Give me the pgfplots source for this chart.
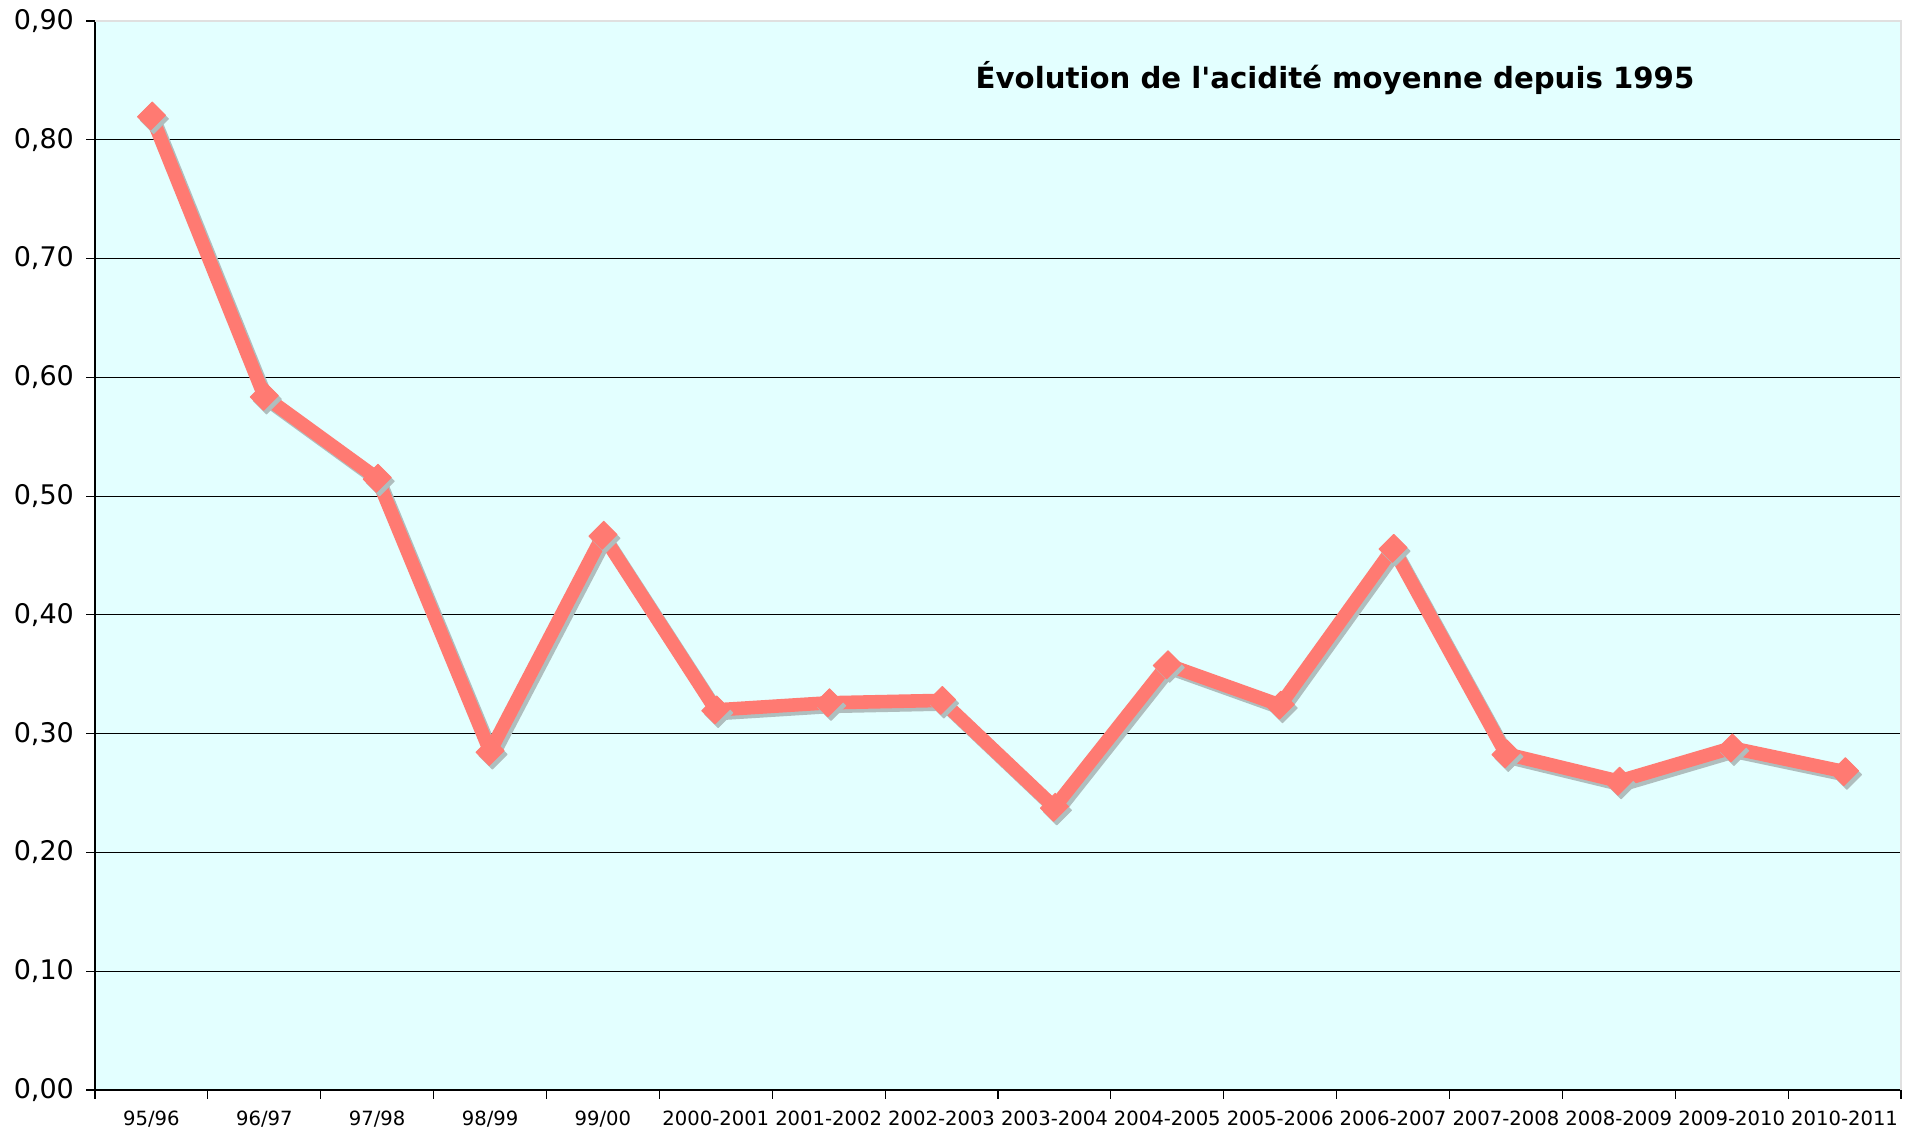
\documentclass[border=0pt]{standalone}
\usepackage{fontspec}
\setmainfont{DejaVu Sans}
\usepackage{pgfplots}
\pgfplotsset{compat=1.18}
\definecolor{bgcyan}{RGB}{227,255,255}
\definecolor{salmonline}{RGB}{255,122,114}
\definecolor{shadowgray}{RGB}{175,190,190}
\begin{document}
\begin{tikzpicture}
\begin{axis}[
  scale only axis, width=903pt, height=534.5pt,
  xmin=-0.5, xmax=15.5, ymin=0, ymax=0.9,
  clip=false,
  axis x line*=bottom, axis y line*=left,
  axis line style={-, black, line width=0.9pt},
  axis background/.style={fill=bgcyan},
  xtick={-0.5,0.5,1.5,2.5,3.5,4.5,5.5,6.5,7.5,8.5,9.5,10.5,11.5,12.5,13.5,14.5,15.5},
  x tick label as interval,
  xticklabels={95/96,96/97,97/98,98/99,99/00,2000-2001,2001-2002,2002-2003,2003-2004,2004-2005,2005-2006,2006-2007,2007-2008,2008-2009,2009-2010,2010-2011},
  ytick={0,0.1,0.2,0.3,0.4,0.5,0.6,0.7,0.8},
  extra y ticks={0.9},
  extra y tick style={grid=none},
  ymajorgrids,
  major grid style={black, line width=0.6pt},
  tick align=outside,
  major tick length=4.5pt,
  tick style={black, line width=0.6pt},
  /pgf/number format/assume math mode=true,
  /pgf/number format/fixed,
  /pgf/number format/fixed zerofill,
  /pgf/number format/precision=2,
  /pgf/number format/use comma,
  y tick label style={font=\fontsize{13.5}{15}\selectfont, xshift=-2.5pt},
  x tick label style={font=\fontsize{9.8}{11}\selectfont, yshift=-2.5pt},
]
\addplot[shadowgray, line width=6.8pt, line join=round, mark=square*, mark size=5.2pt,
  mark options={solid, line width=0.5pt, rotate=45, yscale=0.9}, xshift=1.5pt, yshift=-1.8pt] coordinates {
  (0,0.820) (1,0.584) (2,0.515) (3,0.285) (4,0.467) (5,0.320) (6,0.326) (7,0.328)
  (8,0.238) (9,0.358) (10,0.324) (11,0.456) (12,0.283) (13,0.260) (14,0.288) (15,0.268)
};
\addplot[salmonline, line width=6.8pt, line join=round, mark=square*, mark size=5.2pt,
  mark options={solid, line width=0.5pt, rotate=45, yscale=0.9}] coordinates {
  (0,0.820) (1,0.584) (2,0.515) (3,0.285) (4,0.467) (5,0.320) (6,0.326) (7,0.328)
  (8,0.238) (9,0.358) (10,0.324) (11,0.456) (12,0.283) (13,0.260) (14,0.288) (15,0.268)
};
\draw[black!12, line width=1pt] (rel axis cs:0,1) -- (rel axis cs:1,1) -- (rel axis cs:1,0);
\node[font=\bfseries\fontsize{14.6}{17}\selectfont] at (rel axis cs:0.6866,0.9467)
  {Évolution de l\textquotesingle acidité moyenne depuis 1995};
\coordinate (bbsw) at (rel axis cs:0,0);
\coordinate (bbne) at (rel axis cs:1,1);
\end{axis}
\path ([shift={(-47.5pt,-21.5pt)}]bbsw) rectangle ([shift={(8pt,10.5pt)}]bbne);
\end{tikzpicture}
\end{document}
